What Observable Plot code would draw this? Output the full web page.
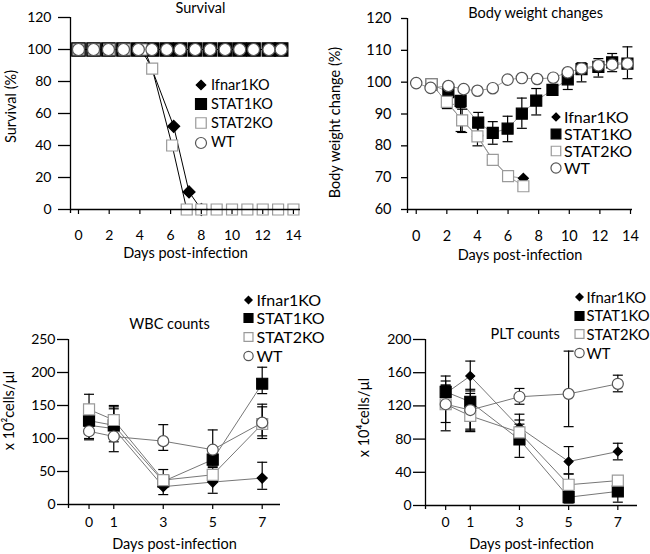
<!DOCTYPE html>
<html><head><meta charset="utf-8">
<script src="https://cdn.jsdelivr.net/npm/d3@7"></script>
<script src="https://cdn.jsdelivr.net/npm/@observablehq/plot@0.6"></script>
<style>
body{margin:0;background:#fff;}
#wrap{position:relative;width:650px;height:554px;overflow:hidden;font-family:Lato,sans-serif;background:#fff;}
.panel{position:absolute;}
.legend{position:absolute;font-family:Lato,sans-serif;color:#000;line-height:1;}
.legend .row{position:absolute;display:flex;align-items:center;white-space:nowrap;}
</style></head><body><div id="wrap"></div><script>
// ---------- names ----------
const seriesNames = ["Ifnar1KO", "STAT1KO", "STAT2KO", "WT"];

// ---------- Survival ----------
const survIfnarDay = [0, 1, 2, 3, 4.3, 6.2, 7.2, 8];
const survIfnarVal = [100, 100, 100, 100, 100, 52, 11, 0];
const survStat1Day = [0, 0.98, 1.95, 2.93, 3.9, 4.78, 5.75, 6.62, 7.6, 8.57, 9.55, 10.5, 11.4, 12.4, 13.2];
const survStat1Val = [100, 100, 100, 100, 100, 100, 100, 100, 100, 100, 100, 100, 100, 100, 100];
const survStat2Day = [0, 1, 2, 3, 4.1, 4.8, 6.1, 7.05, 8, 9, 10, 11, 12, 13, 14];
const survStat2Val = [100, 100, 100, 100, 100, 88, 40, 0, 0, 0, 0, 0, 0, 0, 0];
const survWTDay = [0, 0.98, 1.95, 2.93, 3.9, 4.78, 5.75, 6.62, 7.6, 8.57, 9.55, 10.5, 11.4, 12.4, 13.2];
const survWTVal = [100, 100, 100, 100, 100, 100, 100, 100, 100, 100, 100, 100, 100, 100, 100];
const survYTicks = [0, 20, 40, 60, 80, 100, 120];
const survXTicks = [0, 2, 4, 6, 8, 10, 12, 14];

// ---------- Body weight ----------
const bwIfnarDay = [1, 2, 3, 4, 5, 6, 7];
const bwIfnarVal = [99.3, 93.8, 88, 83, 75.6, 70.5, 69.8];
const bwStat1Day = [1, 2.1, 2.9, 4.05, 5, 5.97, 6.9, 7.84, 8.9, 9.9, 10.8, 11.9, 12.8, 13.8];
const bwStat1Val = [99.3, 96.9, 94.1, 87.3, 84.1, 85.4, 90.1, 94.2, 97.6, 100.9, 104.1, 104.8, 106.2, 105.8];
const bwStat1Lo = [null, 93, 84.5, 83.3, 80.5, 81.3, 85.5, 89.7, 96.5, 97.7, 100.1, 101.6, 103.3, 101.1];
const bwStat1Hi = [null, 99, 92, 90.5, 87.6, 89.3, 95, 98, 99, 103.2, 106.1, 107.4, 109, 111.1];
const bwStat2Day = [1, 2, 3, 4, 5, 6, 7];
const bwStat2Val = [99.3, 93.8, 88, 83, 75.6, 70.5, 67.3];
const bwStat2Lo = [null, 91.7, 84.2, 80, null, null, null];
const bwStat2Hi = [null, 95.5, 91.5, 86, null, null, null];
const bwWTDay = [0, 0.94, 2.1, 3.1, 4, 5, 5.97, 6.9, 7.9, 8.95, 9.9, 10.8, 11.9, 12.8, 13.8];
const bwWTVal = [99.7, 98.2, 98.8, 97.8, 97.3, 98.1, 100.8, 101.3, 101.0, 101.4, 103.1, 104.3, 105.3, 105.5, 105.8];
const bwYTicks = [60, 70, 80, 90, 100, 110, 120];
const bwXTicks = [0, 2, 4, 6, 8, 10, 12, 14];

// ---------- WBC ----------
const cbcDays = [0, 1, 3, 5, 7];
const wbcIfnarVal = [120, 115, 27, 34, 40];
const wbcIfnarLo = [null, 100, 15, 17, 23];
const wbcIfnarHi = [null, 148, 40, 50, 64];
const wbcStat1Val = [127, 120, 35, 68, 183];
const wbcStat1Lo = [100, 95, 28, 58, 168];
const wbcStat1Hi = [150, 145, 45, 78, 208];
const wbcStat2Val = [144, 128, 37, 45, 122];
const wbcStat2Lo = [120, 112, 28, 35, 100];
const wbcStat2Hi = [167, 150, 53, 56, 152];
const wbcWTVal = [111, 103, 96, 83, 124];
const wbcWTLo = [98, 80, 82, 60, 104];
const wbcWTHi = [124, 125, 121, 113, 148];
const wbcYTicks = [0, 50, 100, 150, 200, 250];

// ---------- PLT ----------
const pltIfnarVal = [135, 156, 94, 53, 65];
const pltIfnarLo = [120, 138, 82, 38, 55];
const pltIfnarHi = [150, 174, 110, 71, 75];
const pltStat1Val = [137, 125, 79.5, 10, 17];
const pltStat1Lo = [118, 92, 58, 3, 4];
const pltStat1Hi = [156, 140, 98, 18, 28];
const pltStat2Val = [122, 108, 88, 25, 30];
const pltStat2Lo = [100, 90, 75, 10, 22];
const pltStat2Hi = [145, 128, 103, 38, 34];
const pltWTVal = [122, 115, 131, 134.5, 146.6];
const pltWTLo = [90, 89, 122, 95, 137];
const pltWTHi = [145, 135, 141, 186, 157];
const pltYTicks = [0, 40, 80, 120, 160, 200];

// ---------- styles ----------
const symbols = {diamond: d3.symbolDiamond2, square: d3.symbolSquare, circle: d3.symbolCircle};
const seriesStyle = {
  Ifnar1KO: {symbol: "diamond", fill: "#000", stroke: "#000"},
  STAT1KO: {symbol: "square", fill: "#000", stroke: "#000"},
  STAT2KO: {symbol: "square", fill: "#fff", stroke: "#9a9a9a"},
  WT: {symbol: "circle", fill: "#fff", stroke: "#555"}
};
const capSymbol = {draw(ctx, size) { const r = Math.sqrt(size / Math.PI); ctx.moveTo(-r, 0); ctx.lineTo(r, 0); }};

function rowsOf(name, xs, ys, lo, hi) {
  return xs.map((x, i) => ({name, x, y: ys[i], lo: lo ? lo[i] : null, hi: hi ? hi[i] : null}));
}

function makePanel(cfg) {
  const rows = cfg.series.flat();
  const marks = [];
  marks.push(Plot.line(rows, {x: "x", y: "y", z: "name", stroke: cfg.lineColor, strokeWidth: cfg.lineWidth}));
  const err = rows.filter(d => d.lo != null && d.hi != null);
  if (err.length) {
    marks.push(Plot.ruleX(err, {x: "x", y1: "lo", y2: "hi", stroke: "#000", strokeWidth: 1.2}));
    const caps = err.flatMap(d => [{x: d.x, y: d.lo}, {x: d.x, y: d.hi}]);
    marks.push(Plot.dot(caps, {x: "x", y: "y", symbol: capSymbol, r: 5, stroke: "#000", strokeWidth: 1.2, fill: "none"}));
  }
  for (const name of seriesNames) {
    const s = seriesStyle[name];
    marks.push(Plot.dot(rows.filter(d => d.name === name), {
      x: "x", y: "y", symbol: symbols[s.symbol], r: cfg.r[name],
      fill: s.fill, stroke: s.stroke, strokeWidth: 1.2
    }));
  }
  // axes
  marks.push(Plot.ruleY([cfg.yDomain[0]], {stroke: "#000", strokeWidth: 1.3}));
  marks.push(Plot.ruleX([cfg.xDomain[0]], {stroke: "#000", strokeWidth: 1.3, insetBottom: -4}));
  marks.push(Plot.axisY({ticks: cfg.yTicks, tickSize: cfg.yTickSize, tickPadding: cfg.yTickPad, label: null, fontSize: cfg.tickFont, strokeWidth: 1.3}));
  marks.push(Plot.axisX({ticks: cfg.xTicks, tickSize: 5, tickPadding: cfg.xTickPad, label: null, fontSize: cfg.tickFont, strokeWidth: 1.2}));
  // titles / labels
  marks.push(Plot.text([cfg.title], {frameAnchor: "top", textAnchor: "middle", lineAnchor: "middle", dx: cfg.titleDx, dy: cfg.titleDy, fontSize: cfg.titleFont, fill: "#000"}));
  marks.push(Plot.text([cfg.xLabel], {frameAnchor: "bottom", textAnchor: "middle", lineAnchor: "middle", dy: cfg.xLabelDy, fontSize: cfg.labelFont, fill: "#000"}));
  marks.push(Plot.text([cfg.yLabel], {frameAnchor: "left", textAnchor: "middle", lineAnchor: "middle", dx: cfg.yLabelDx, dy: cfg.yLabelDy, rotate: -90, fontSize: cfg.labelFont, fill: "#000"}));

  const svg = Plot.plot({
    width: 325, height: 277,
    marginLeft: cfg.m[0], marginRight: cfg.m[1], marginTop: cfg.m[2], marginBottom: cfg.m[3],
    x: {domain: cfg.xDomain}, y: {domain: cfg.yDomain},
    style: {fontFamily: "Lato, sans-serif", fontSize: "14px", color: "#000", background: "transparent", overflow: "visible"},
    marks
  });
  svg.classList.add("panel");
  svg.style.left = cfg.left + "px";
  svg.style.top = cfg.top + "px";
  document.getElementById("wrap").appendChild(svg);
}

function makeLegend(cfg) {
  const div = d3.select("#wrap").append("div").attr("class", "legend")
    .style("left", "0px").style("top", "0px");
  seriesNames.forEach((name, i) => {
    const s = seriesStyle[name];
    const row = div.append("div").attr("class", "row")
      .style("left", (cfg.x - cfg.box / 2) + "px")
      .style("top", (cfg.y0 + i * cfg.dy - 10) + "px")
      .style("height", "20px")
      .style("font-size", cfg.font + "px");
    const sv = row.append("svg").attr("width", cfg.box).attr("height", 20).style("overflow", "visible");
    const size = cfg.size[name];
    sv.append("path").attr("transform", `translate(${cfg.box / 2},10)`)
      .attr("d", d3.symbol(symbols[s.symbol], size)())
      .attr("fill", s.fill).attr("stroke", s.stroke).attr("stroke-width", 1.2);
    row.append("span").style("margin-left", cfg.gap + "px").text(name);
  });
}

// Survival
makePanel({
  left: 0, top: 0, m: [70, 25, 17, 68],
  xDomain: [-0.52, 14.46], yDomain: [0, 120], xTicks: survXTicks, yTicks: survYTicks,
  yTickSize: 12, yTickPad: 7, xTickPad: 16, tickFont: 14,
  lineColor: "#000", lineWidth: 1,
  r: {Ifnar1KO: 5.4, STAT1KO: 7.6, STAT2KO: 6.2, WT: 6},
  series: [
    rowsOf("Ifnar1KO", survIfnarDay, survIfnarVal),
    rowsOf("STAT2KO", survStat2Day, survStat2Val),
    rowsOf("STAT1KO", survStat1Day, survStat1Val),
    rowsOf("WT", survWTDay, survWTVal)
  ],
  title: "Survival", titleDx: 15, titleDy: -9, titleFont: 14.5,
  xLabel: "Days post-infection", xLabelDy: 44, labelFont: 14.5,
  yLabel: "Survival (%)", yLabelDx: -59, yLabelDy: -7
});

// Body weight
makePanel({
  left: 325, top: 0, m: [82, 18, 18, 68],
  xDomain: [-0.57, 14.13], yDomain: [60, 120], xTicks: bwXTicks, yTicks: bwYTicks,
  yTickSize: 6, yTickPad: 10, xTickPad: 16, tickFont: 14.5,
  lineColor: "#999", lineWidth: 1,
  r: {Ifnar1KO: 4.5, STAT1KO: 6.2, STAT2KO: 6.2, WT: 5.7},
  series: [
    rowsOf("Ifnar1KO", bwIfnarDay, bwIfnarVal),
    rowsOf("STAT2KO", bwStat2Day, bwStat2Val, bwStat2Lo, bwStat2Hi),
    rowsOf("STAT1KO", bwStat1Day, bwStat1Val, bwStat1Lo, bwStat1Hi),
    rowsOf("WT", bwWTDay, bwWTVal)
  ],
  title: "Body weight changes", titleDx: 15.6, titleDy: -5.3, titleFont: 14.5,
  xLabel: "Days post-infection", xLabelDy: 46, labelFont: 14.5,
  yLabel: "Body weight change (%)", yLabelDx: -72, yLabelDy: 8.5
});

// WBC
makePanel({
  left: 0, top: 277, m: [68, 45, 62, 50],
  xDomain: [-0.83, 7.74], yDomain: [0, 250], xTicks: cbcDays, yTicks: wbcYTicks,
  yTickSize: 11, yTickPad: 2, xTickPad: 8, tickFont: 14,
  lineColor: "#777", lineWidth: 1,
  r: {Ifnar1KO: 4.5, STAT1KO: 6.2, STAT2KO: 6.2, WT: 5.5},
  series: [
    rowsOf("Ifnar1KO", cbcDays, wbcIfnarVal, wbcIfnarLo, wbcIfnarHi),
    rowsOf("STAT1KO", cbcDays, wbcStat1Val, wbcStat1Lo, wbcStat1Hi),
    rowsOf("STAT2KO", cbcDays, wbcStat2Val, wbcStat2Lo, wbcStat2Hi),
    rowsOf("WT", cbcDays, wbcWTVal, wbcWTLo, wbcWTHi)
  ],
  title: "WBC counts", titleDx: -5, titleDy: -15.6, titleFont: 14.5,
  xLabel: "Days post-infection", xLabelDy: 40, labelFont: 14.5,
  yLabel: "x 10²cells/µl", yLabelDx: -59, yLabelDy: -11.5
});

// PLT
makePanel({
  left: 325, top: 277, m: [100, 13, 62, 49],
  xDomain: [-0.82, 7.8], yDomain: [0, 200], xTicks: cbcDays, yTicks: pltYTicks,
  yTickSize: 12, yTickPad: 2, xTickPad: 7, tickFont: 14,
  lineColor: "#777", lineWidth: 1,
  r: {Ifnar1KO: 4, STAT1KO: 6.2, STAT2KO: 6.2, WT: 5.5},
  series: [
    rowsOf("Ifnar1KO", cbcDays, pltIfnarVal, pltIfnarLo, pltIfnarHi),
    rowsOf("STAT1KO", cbcDays, pltStat1Val, pltStat1Lo, pltStat1Hi),
    rowsOf("STAT2KO", cbcDays, pltStat2Val, pltStat2Lo, pltStat2Hi),
    rowsOf("WT", cbcDays, pltWTVal, pltWTLo, pltWTHi)
  ],
  title: "PLT counts", titleDx: -6.3, titleDy: -5.6, titleFont: 14.5,
  xLabel: "Days post-infection", xLabelDy: 38.4, labelFont: 14.5,
  yLabel: "x 10⁴cells/µl", yLabelDx: -61, yLabelDy: -5
});

// legends
makeLegend({x: 201, y0: 85, dy: 19.2, box: 14, gap: 3, font: 14.5,
  size: {Ifnar1KO: 58, STAT1KO: 120, STAT2KO: 110, WT: 95}});
makeLegend({x: 556, y0: 116.5, dy: 17.2, box: 12, gap: 2, font: 16,
  size: {Ifnar1KO: 40, STAT1KO: 95, STAT2KO: 90, WT: 80}});
makeLegend({x: 248, y0: 299.7, dy: 18.6, box: 11, gap: 3, font: 16,
  size: {Ifnar1KO: 34, STAT1KO: 80, STAT2KO: 80, WT: 68}});
makeLegend({x: 579, y0: 297, dy: 18.7, box: 11, gap: 2, font: 14.8,
  size: {Ifnar1KO: 34, STAT1KO: 80, STAT2KO: 80, WT: 68}});
</script></body></html>
